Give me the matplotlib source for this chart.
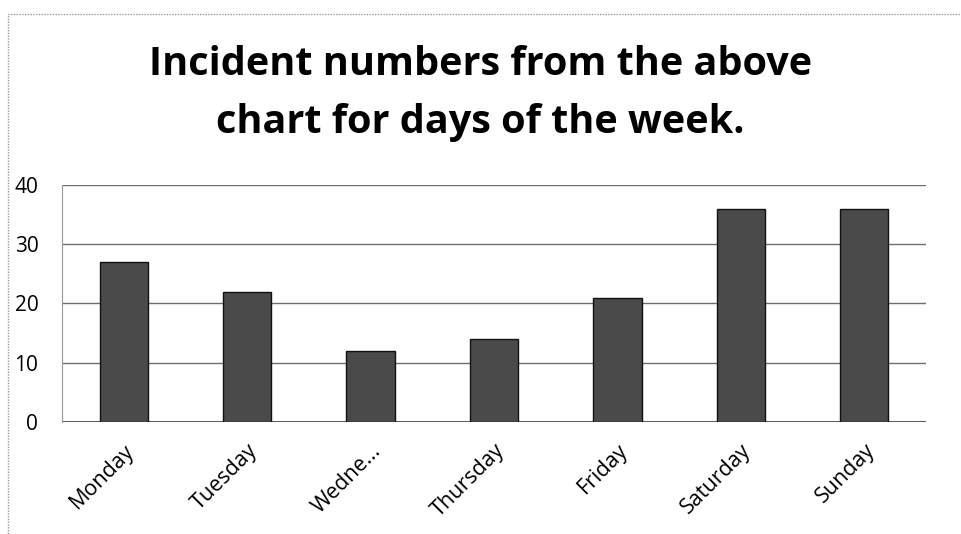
import matplotlib.pyplot as plt
from matplotlib.patches import Rectangle
import numpy as np

# data
days = ['Monday', 'Tuesday', 'Wedne...', 'Thursday', 'Friday', 'Saturday', 'Sunday']
incidents = [27, 22, 12, 14, 21, 36, 36]
yticks = [0, 10, 20, 30, 40]

plt.rcParams['font.family'] = ['Open Sans', 'DejaVu Sans']
fig = plt.figure(figsize=(9.61, 5.34), dpi=100)
ax = fig.add_axes([0.0645, 0.2097, 0.8991, 0.4439])

index = np.arange(len(days))
ax.bar(index, incidents, 0.39, color='#4a4a4a', edgecolor='#111111', linewidth=1, zorder=3)

ax.set_xlim(-0.5, len(days) - 0.5)
ax.set_ylim(0, 40)
ax.set_yticks(yticks)
ax.set_yticklabels([str(v) for v in yticks], fontsize=15)
ax.set_xticks(index)
ax.set_xticklabels(days, fontsize=15.5, rotation=45, ha='right', rotation_mode='anchor')
ax.tick_params(axis='both', length=0)
ax.tick_params(axis='y', pad=17)
ax.tick_params(axis='x', pad=13)

ax.grid(axis='y', color='#6e6e6e', linewidth=1, zorder=0)
for s in ['top', 'right', 'bottom']:
    ax.spines[s].set_visible(False)
ax.spines['left'].set_color('#999999')
ax.axhline(0, color='#444444', linewidth=1.2, zorder=2)

fig.text(0.5, 0.825, 'Incident numbers from the above\nchart for days of the week.',
         ha='center', va='center', fontsize=28.5, fontweight='bold', linespacing=1.62)

# dotted frame around the chart
fig.patches.append(Rectangle((0.008, -0.05), 1.2, 1.023, transform=fig.transFigure,
                             fill=False, edgecolor='#999999', linestyle=(0, (1, 1)), linewidth=1))

fig.savefig('out.png', dpi=100, facecolor='white')
